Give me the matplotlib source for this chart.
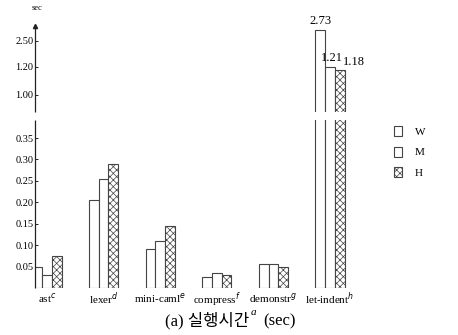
import matplotlib
matplotlib.use("Agg")
import matplotlib.pyplot as plt
import numpy as np
from matplotlib.patches import Patch

# data (sec)
programs = ["ast", "lexer", "mini-caml", "compress", "demonstr", "let-indent"]
marks = ["c", "d", "e", "f", "g", "h"]
series = ["W", "M", "H"]
w_vals = [0.05, 0.205, 0.09, 0.025, 0.055, 2.73]
m_vals = [0.03, 0.255, 0.11, 0.035, 0.055, 1.21]
h_vals = [0.075, 0.29, 0.145, 0.03, 0.05, 1.18]
labelled = {"W": 2.73, "M": 1.21, "H": 1.18}
ytick_vals = [0.05, 0.10, 0.15, 0.20, 0.25, 0.30, 0.35, 1.00, 1.20, 2.50]

# broken, piecewise linear y axis (value -> drawing height)
nodes_v = np.array([0.0, 0.35, 1.0, 1.2, 2.5, 3.0])
nodes_p = np.array([0.0, 150.0, 193.0, 221.0, 247.0, 272.0])


def fwd(v):
    return np.interp(v, nodes_v, nodes_p)


def inv(p):
    return np.interp(p, nodes_p, nodes_v)


plt.rcParams["font.family"] = ["Liberation Serif", "Noto Sans CJK KR"]
plt.rcParams["hatch.linewidth"] = 0.5

fig = plt.figure(figsize=(4.58, 3.35), dpi=100)
ax = fig.add_axes([35 / 458, 47 / 335, 337 / 458, 262 / 335])
ax.set_yscale("function", functions=(fwd, inv))

x = np.arange(len(programs))
bw = 0.172
edge = "#444444"
hatches = {"W": None, "M": None, "H": "xxxxx"}
vals = {"W": w_vals, "M": m_vals, "H": h_vals}
for i, s in enumerate(series):
    bars = ax.bar(x + (i - 1) * bw, vals[s], bw, color="white", edgecolor=edge,
                  linewidth=0.8, hatch=hatches[s], label=s, zorder=2)
    top = bars[-1]
    cx = top.get_x() + top.get_width() / 2
    if s == "H":
        # label sits to the right of the hatched bar
        ax.annotate(f"{labelled[s]:.2f}", (cx, labelled[s]), xytext=(2, 1),
                    textcoords="offset points", ha="left", va="bottom",
                    fontsize=9, annotation_clip=False)
    else:
        ax.annotate(f"{labelled[s]:.2f}", (cx + (i == 1) * 0.04, labelled[s]), xytext=(0, 2),
                    textcoords="offset points", ha="center", va="bottom",
                    fontsize=9, annotation_clip=False)

ax.set_xlim(-0.212, 5.742)
ax.set_ylim(0, inv(262))

# gap in the bars/axis between 0.35 and 1.00
gap_lo, gap_hi = inv(168), inv(176)
ax.axhspan(gap_lo, gap_hi, color="white", zorder=3, lw=0)
for sp in ["top", "right", "bottom", "left"]:
    ax.spines[sp].set_visible(False)
x0 = ax.get_xlim()[0]
ax.vlines(x0, 0, gap_lo, color="#222222", lw=0.9, clip_on=False, zorder=4)
ax.vlines(x0, gap_hi, ax.get_ylim()[1], color="#222222", lw=0.9, clip_on=False, zorder=4)
ax.plot([x0], [ax.get_ylim()[1]], marker="^", ms=3, color="#222222", clip_on=False)

ax.set_yticks(ytick_vals)
ax.set_yticklabels([f"{v:.2f}" for v in ytick_vals], fontsize=7.5)
ax.tick_params(axis="y", length=2, width=0.6, direction="in", pad=1)
ax.set_xticks(x)
ax.set_xticklabels([f"{p}$^{m}$" for p, m in zip(programs, marks)], fontsize=8)
ax.tick_params(axis="x", length=0, pad=2)
ax.minorticks_off()

handles = [Patch(facecolor="white", edgecolor=edge, lw=0.8, hatch=hatches[s]) for s in series]
fig.legend(handles, series, loc="center left", bbox_to_anchor=(384 / 458, 1 - 152 / 335),
           frameon=False, fontsize=8, handlelength=0.7, handleheight=1.0,
           labelspacing=0.9, handletextpad=1.2)

fig.text(37 / 458, 1 - 8 / 335, "sec", fontsize=6, ha="center", va="center")

# caption: (a) 실행시간^a (sec), pieces chained so the superscript follows the text
cap = fig.text(165 / 458, 1 - 321 / 335, "(a) 실행시간", fontsize=12, ha="left", va="center")
sup = ax.annotate("a", xy=(1, 0.5), xycoords=cap, xytext=(1, 3), textcoords="offset points",
                  fontsize=8, style="italic", ha="left", va="bottom")
ax.annotate("(sec)", xy=(1, 0.5), xycoords=cap, xytext=(10, 0), textcoords="offset points",
            fontsize=12, ha="left", va="center")

fig.savefig("out.png", dpi=100)
